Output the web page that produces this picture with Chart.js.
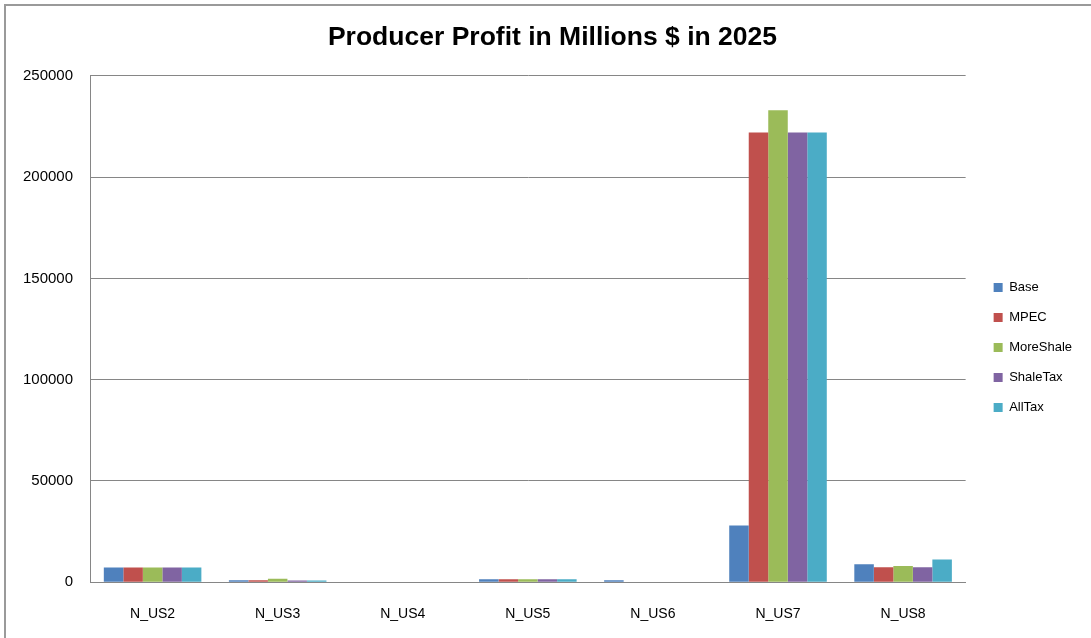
<!DOCTYPE html>
<html>
<head>
<meta charset="utf-8">
<script src="https://cdn.jsdelivr.net/npm/chart.js@4"></script>
<style>
  html, body { margin: 0; padding: 0; background: #fff; overflow: hidden; }
  #frame { position: absolute; left: 4px; top: 4px; width: 1087px; height: 634px; border-top: 2px solid #9a9a9a; border-left: 2px solid #9a9a9a; box-sizing: border-box; }
  #wrap { position: absolute; left: 0; top: 0; width: 1091px; height: 647px; }
</style>
</head>
<body>
<div id="frame"></div>
<div id="wrap"><canvas id="profitChart"></canvas></div>
<script>
// Producer profit by region, millions $ in 2025
var regions = ["N_US2", "N_US3", "N_US4", "N_US5", "N_US6", "N_US7", "N_US8"];

var baseData      = [7300, 1000, 200, 1500, 1000, 28000, 8900];
var mpecData      = [7300, 1000, 200, 1500, 200, 222000, 7400];
var moreShaleData = [7300, 1700, 200, 1500, 200, 233000, 8000];
var shaleTaxData  = [7300, 800, 200, 1500, 200, 222000, 7400];
var allTaxData    = [7300, 800, 200, 1500, 200, 222000, 11200];

var yTicks = [0, 50000, 100000, 150000, 200000, 250000];

var seriesNames  = ["Base", "MPEC", "MoreShale", "ShaleTax", "AllTax"];
var seriesColors = ["#4f81bd", "#c0504d", "#9bbb59", "#8064a2", "#4bacc6"];

var profitChartSelector = document.getElementById("profitChart");
var fontFamily = "'Liberation Sans', sans-serif";

// nudge legend and title a bit, like the original sheet
var boxShift = {
    id: "boxShift",
    afterLayout: function (chart) {
        var lg = chart.legend;
        lg.left += 11; lg.right += 11;
        lg.top += 21; lg.bottom += 21;
        var tb = chart.titleBlock;
        tb.left += 14; tb.right += 14;
    }
};

var profitChartData = {
    labels: regions,
    datasets: [baseData, mpecData, moreShaleData, shaleTaxData, allTaxData].map(function (d, i) {
        return {
            label: seriesNames[i],
            data: d,
            backgroundColor: seriesColors[i],
            borderWidth: 0,
            categoryPercentage: 0.78,
            barPercentage: 1.0
        };
    })
};

var profitChartOptions = {
    responsive: true,
    maintainAspectRatio: false,
    animation: false,
    layout: { padding: { left: 6, right: 20, top: 6, bottom: 0 } },
    plugins: {
        title: {
            display: true,
            text: "Producer Profit in Millions $ in 2025",
            color: "#000",
            font: { family: fontFamily, size: 26.5, weight: "bold" },
            padding: { top: 16, bottom: 22 }
        },
        legend: {
            position: "right",
            labels: {
                color: "#000",
                boxWidth: 9,
                boxHeight: 9,
                padding: 17,
                font: { family: fontFamily, size: 13 }
            }
        },
        tooltip: { enabled: false }
    },
    scales: {
        x: {
            grid: { display: false, drawTicks: false },
            border: { color: "#868686" },
            ticks: { color: "#000", padding: 24, font: { family: fontFamily, size: 14 } }
        },
        y: {
            min: 0,
            max: 250000,
            afterBuildTicks: function (axis) {
                axis.ticks = yTicks.map(function (v) { return { value: v }; });
            },
            grid: { color: "#868686", drawTicks: false },
            border: { color: "#868686" },
            ticks: {
                color: "#000",
                padding: 17,
                font: { family: fontFamily, size: 15 },
                callback: function (v) { return String(v); }
            }
        }
    }
};

var profitChart = new Chart(profitChartSelector, {
    type: "bar",
    data: profitChartData,
    options: profitChartOptions,
    plugins: [boxShift]
});
</script>
</body>
</html>
